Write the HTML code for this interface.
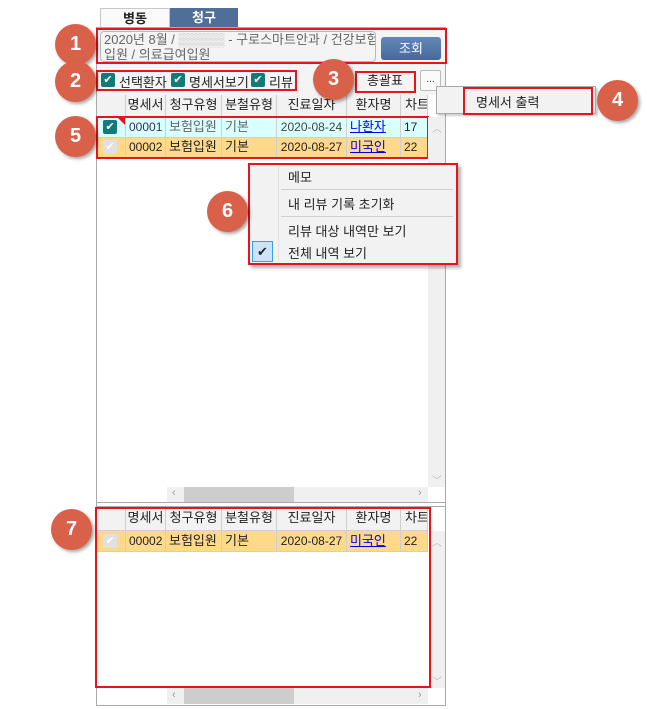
<!DOCTYPE html>
<html><head><meta charset="utf-8"><style>
*{box-sizing:border-box;margin:0;padding:0}
body{width:647px;height:709px;background:#fff;position:relative;overflow:hidden;font-family:"Liberation Sans","Noto Sans CJK KR",sans-serif;font-size:12px;color:#222}
.a{position:absolute}
.red{position:absolute;border:2px solid #e8141c}
.c{position:absolute;width:41px;height:41px;border-radius:50%;background:#d9614a;color:#fff;font-weight:bold;font-size:20px;text-align:center;line-height:41px;box-shadow:2px 2px 3px rgba(0,0,0,.35)}
.cell{position:absolute;border-right:1px solid #cfcfcf;border-bottom:1px solid #cfcfcf;height:21px;line-height:20px;padding-left:3px;white-space:nowrap;overflow:hidden}
.hd{background:#f2f2f2;text-align:center;padding-left:0}
.ck{position:absolute;width:14px;height:14px;border-radius:2px;background:#137a78;color:#fff;font-size:11px;line-height:14px;text-align:center}
.ckg{background:#e0e0e0;color:#fff}
a{color:#0000ee;text-decoration:underline}
.sb{position:absolute;background:#f0f0f0}
</style></head><body>
<div class="a" style="left:100px;top:8px;width:70px;height:20px;border:1px solid #c8c8c8;border-bottom:none;background:#fafafa;text-align:center;line-height:19px;font-weight:bold;font-size:13px">병동</div>
<div class="a" style="left:170px;top:8px;width:68px;height:20px;background:#4f6f99;color:#fff;text-align:center;line-height:19px;font-weight:bold;font-size:13px">청구</div>
<div class="a" style="left:96px;top:27px;width:350px;height:679px;border:1px solid #aaa;background:#fff"></div>
<div class="a" style="left:97px;top:28px;width:348px;height:67px;background:#f4f4f4"></div>
<div class="a" style="left:100px;top:31px;width:276px;height:31px;border:1px solid #b8b8b8;border-radius:4px;background:#f4f4f4;color:#666;font-size:13px;line-height:15px;padding:0 3px;white-space:nowrap;overflow:hidden">2020년 8월 / <span style="color:#bbb">▒▒▒▒▒</span> - 구로스마트안과 / 건강보험<br>입원 / 의료급여입원</div>
<div class="a" style="left:381px;top:37px;width:60px;height:23px;border-radius:3px;background:linear-gradient(#6388b8,#46699a);color:#fff;text-align:center;line-height:23px;font-size:13px">조회</div>
<div class="red" style="left:96px;top:28px;width:351px;height:36px"></div>
<div class="ck" style="left:101px;top:73px">✔</div><div class="a" style="left:119px;top:72px;font-size:13px">선택환자</div>
<div class="ck" style="left:171px;top:73px">✔</div><div class="a" style="left:189px;top:72px;font-size:13px">명세서보기</div>
<div class="ck" style="left:251px;top:73px">✔</div><div class="a" style="left:269px;top:72px;font-size:13px">리뷰</div>
<div class="red" style="left:96px;top:70px;width:201px;height:21px"></div>
<div class="a" style="left:355px;top:71px;width:60px;height:21px;text-align:center;line-height:20px;font-size:13px;background:#f4f4f4">총괄표</div>
<div class="red" style="left:355px;top:71px;width:61px;height:22px"></div>
<div class="a" style="left:420px;top:70px;width:21px;height:21px;border:1px solid #bbb;border-radius:2px;background:#fafafa;text-align:center;line-height:18px;font-size:10px">...</div>
<div class="cell hd" style="left:97px;top:95px;width:29px;height:22px"></div>
<div class="cell hd" style="left:126px;top:95px;width:40px;height:22px;font-size:13px">명세서</div>
<div class="cell hd" style="left:166px;top:95px;width:56px;height:22px;font-size:13px">청구유형</div>
<div class="cell hd" style="left:222px;top:95px;width:55px;height:22px;font-size:13px">분철유형</div>
<div class="cell hd" style="left:277px;top:95px;width:70px;height:22px;font-size:13px">진료일자</div>
<div class="cell hd" style="left:347px;top:95px;width:54px;height:22px;font-size:13px">환자명</div>
<div class="cell hd" style="left:401px;top:95px;width:27px;height:22px;font-size:13px;text-align:left;padding-left:4px">차트</div>
<div class="a" style="left:97px;top:117px;width:331px;height:20px;background:#d9ffff"></div>
<div class="a" style="left:97px;top:137px;width:331px;height:20px;background:#ffd98a"></div>
<div class="cell" style="left:97px;top:117px;width:29px"></div><div class="ck" style="left:103px;top:120px">✔</div>
<div class="a" style="left:117px;top:117px;width:0;height:0;border-top:8px solid #e8141c;border-left:8px solid transparent"></div>
<div class="cell" style="left:126px;top:117px;width:40px;color:#335">00001</div>
<div class="cell" style="left:166px;top:117px;width:56px;color:#666;font-size:13px">보험입원</div>
<div class="cell" style="left:222px;top:117px;width:55px;color:#666;font-size:13px">기본</div>
<div class="cell" style="left:277px;top:117px;width:70px;color:#444;text-align:center;padding:0">2020-08-24</div>
<div class="cell" style="left:347px;top:117px;width:54px;font-size:13px"><a>나환자</a></div>
<div class="cell" style="left:401px;top:117px;width:27px">17</div>
<div class="cell" style="left:97px;top:137px;width:29px"></div><div class="ck ckg" style="left:103px;top:140px">✔</div>
<div class="cell" style="left:126px;top:137px;width:40px">00002</div>
<div class="cell" style="left:166px;top:137px;width:56px;font-size:13px">보험입원</div>
<div class="cell" style="left:222px;top:137px;width:55px;font-size:13px">기본</div>
<div class="cell" style="left:277px;top:137px;width:70px;text-align:center;padding:0">2020-08-27</div>
<div class="cell" style="left:347px;top:137px;width:54px;font-size:13px"><a>미국인</a></div>
<div class="cell" style="left:401px;top:137px;width:27px">22</div>
<div class="red" style="left:96px;top:116px;width:333px;height:43px"></div>
<div class="sb" style="left:428px;top:117px;width:17px;height:370px"></div>
<div class="a" style="left:432px;top:120px;color:#bbb;font-size:10px">︿</div>
<div class="a" style="left:432px;top:472px;color:#bbb;font-size:10px">﹀</div>
<div class="sb" style="left:167px;top:487px;width:261px;height:15px"></div>
<div class="a" style="left:184px;top:487px;width:110px;height:15px;background:#cdcdcd"></div>
<div class="a" style="left:172px;top:487px;color:#999;font-size:11px">‹</div>
<div class="a" style="left:418px;top:487px;color:#999;font-size:11px">›</div>
<div class="a" style="left:97px;top:502px;width:348px;height:5px;border-top:1px solid #aaa;border-bottom:1px solid #aaa;background:#fff"></div>
<div class="a" style="left:436px;top:86px;width:160px;height:28px;background:#f2f2f2;border:1px solid #aaa;box-shadow:2px 2px 2px rgba(0,0,0,.2)"></div>
<div class="a" style="left:476px;top:92px;font-size:13px">명세서 출력</div>
<div class="red" style="left:463px;top:87px;width:130px;height:28px"></div>
<div class="a" style="left:248px;top:163px;width:210px;height:102px;background:#f2f2f2;box-shadow:3px 3px 3px rgba(0,0,0,.3)"></div>
<div class="a" style="left:278px;top:166px;width:1px;height:96px;background:#e0e0e0"></div>
<div class="a" style="left:288px;top:167px;font-size:13px">메모</div>
<div class="a" style="left:281px;top:189px;width:172px;height:1px;background:#d0d0d0"></div>
<div class="a" style="left:288px;top:194px;font-size:13px">내 리뷰 기록 초기화</div>
<div class="a" style="left:281px;top:216px;width:172px;height:1px;background:#d0d0d0"></div>
<div class="a" style="left:288px;top:221px;font-size:13px">리뷰 대상 내역만 보기</div>
<div class="a" style="left:252px;top:241px;width:21px;height:21px;background:#cce4f7;border:1px solid #3c9ee8;text-align:center;line-height:19px;font-size:13px">✔</div>
<div class="a" style="left:288px;top:243px;font-size:13px">전체 내역 보기</div>
<div class="red" style="left:248px;top:163px;width:210px;height:102px"></div>
<div class="cell hd" style="left:97px;top:508px;width:29px;height:23px"></div>
<div class="cell hd" style="left:126px;top:508px;width:40px;height:23px;font-size:13px">명세서</div>
<div class="cell hd" style="left:166px;top:508px;width:56px;height:23px;font-size:13px">청구유형</div>
<div class="cell hd" style="left:222px;top:508px;width:55px;height:23px;font-size:13px">분철유형</div>
<div class="cell hd" style="left:277px;top:508px;width:70px;height:23px;font-size:13px">진료일자</div>
<div class="cell hd" style="left:347px;top:508px;width:54px;height:23px;font-size:13px">환자명</div>
<div class="cell hd" style="left:401px;top:508px;width:27px;height:23px;font-size:13px;text-align:left;padding-left:4px">차트</div>
<div class="a" style="left:97px;top:531px;width:331px;height:20px;background:#ffd98a"></div>
<div class="cell" style="left:97px;top:531px;width:29px"></div><div class="ck ckg" style="left:103px;top:534px">✔</div>
<div class="cell" style="left:126px;top:531px;width:40px">00002</div>
<div class="cell" style="left:166px;top:531px;width:56px;font-size:13px">보험입원</div>
<div class="cell" style="left:222px;top:531px;width:55px;font-size:13px">기본</div>
<div class="cell" style="left:277px;top:531px;width:70px;text-align:center;padding:0">2020-08-27</div>
<div class="cell" style="left:347px;top:531px;width:54px;font-size:13px"><a>미국인</a></div>
<div class="cell" style="left:401px;top:531px;width:27px">22</div>
<div class="sb" style="left:429px;top:531px;width:16px;height:157px"></div>
<div class="a" style="left:432px;top:534px;color:#bbb;font-size:10px">︿</div>
<div class="a" style="left:432px;top:673px;color:#bbb;font-size:10px">﹀</div>
<div class="sb" style="left:167px;top:688px;width:261px;height:16px"></div>
<div class="a" style="left:184px;top:688px;width:110px;height:16px;background:#cdcdcd"></div>
<div class="a" style="left:172px;top:689px;color:#999;font-size:11px">‹</div>
<div class="a" style="left:418px;top:689px;color:#999;font-size:11px">›</div>
<div class="red" style="left:95px;top:507px;width:336px;height:181px"></div>
<div class="c" style="left:55px;top:24px">1</div>
<div class="c" style="left:55px;top:61px">2</div>
<div class="c" style="left:313px;top:59px">3</div>
<div class="c" style="left:597px;top:80px">4</div>
<div class="c" style="left:55px;top:116px">5</div>
<div class="c" style="left:207px;top:191px">6</div>
<div class="c" style="left:51px;top:509px">7</div>
</body></html>
